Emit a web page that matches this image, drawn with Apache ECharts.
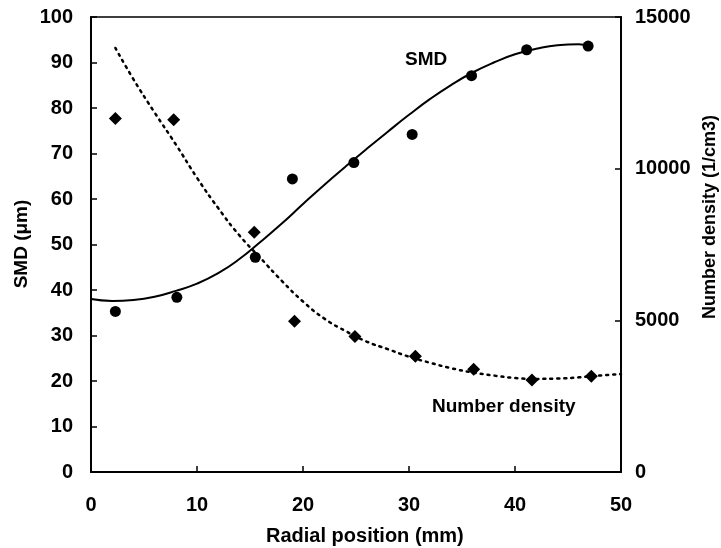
<!DOCTYPE html>
<html>
<head>
<meta charset="utf-8">
<script src="https://cdn.jsdelivr.net/npm/echarts@6/dist/echarts.min.js"></script>
<style>
html,body{margin:0;padding:0;background:#fff;}
#c{width:721px;height:548px;}
</style>
</head>
<body>
<div id="c"></div>
<script>
// Measured SMD points (radial position mm, SMD um)
const smdX = [2.3, 8.1, 15.5, 19.0, 24.8, 30.3, 35.9, 41.1, 46.9];
const smdY = [35.3, 38.4, 47.2, 64.4, 68.0, 74.2, 87.1, 92.8, 93.6];
// Fitted SMD curve
const smdFitX = [0, 2, 4, 6, 8, 10, 12, 14, 16, 18, 20, 22, 24, 26, 28, 30, 32, 34, 36, 38, 40, 42, 44, 46, 47];
const smdFitY = [38.0, 37.6, 37.8, 38.5, 39.8, 41.4, 43.7, 46.8, 50.6, 54.6, 58.9, 63.1, 67.1, 71.0, 74.8, 78.5, 82.0, 85.1, 87.8, 90.0, 91.8, 93.0, 93.8, 94.0, 93.6];
// Measured number density points (1/cm3)
const ndX = [2.3, 7.8, 15.4, 19.2, 24.9, 30.6, 36.1, 41.6, 47.2];
const ndY = [11650, 11610, 7900, 4970, 4470, 3820, 3390, 3030, 3160];
// Fitted number density curve
const ndFitX = [2.3, 4, 6, 8, 10, 12, 14, 16, 18, 20, 22, 24, 26, 28, 30, 32, 34, 36, 38, 40, 42, 44, 46, 48, 50];
const ndFitY = [13980, 12950, 11850, 10800, 9700, 8700, 7800, 7050, 6300, 5620, 5060, 4650, 4300, 4050, 3800, 3600, 3420, 3280, 3180, 3100, 3070, 3080, 3120, 3180, 3230];
const xTicks = [0, 10, 20, 30, 40, 50];
const leftTicks = [0, 10, 20, 30, 40, 50, 60, 70, 80, 90, 100];
const rightTicks = [0, 5000, 10000, 15000];

const pair = (xs, ys) => xs.map((x, i) => [x, ys[i]]);
const FONT = "'Liberation Sans', Arial, sans-serif";
const txt = {color: '#000', fontFamily: FONT, fontSize: 20, fontWeight: 'bold'};

const chart = echarts.init(document.getElementById('c'), null, {renderer: 'canvas'});
chart.setOption({
  animation: false,
  backgroundColor: '#fff',
  grid: {left: 91, right: 100, top: 17, bottom: 76, show: true, borderColor: '#000', borderWidth: 1.5, backgroundColor: 'transparent'},
  xAxis: {
    type: 'value', min: xTicks[0], max: xTicks[xTicks.length - 1], interval: 10,
    axisLine: {lineStyle: {color: '#000', width: 2}},
    axisTick: {inside: true, length: 6, lineStyle: {color: '#000', width: 1.5}},
    axisLabel: Object.assign({margin: 23, formatter: v => String(v)}, txt),
    splitLine: {show: false}
  },
  yAxis: [{
    type: 'value', min: leftTicks[0], max: leftTicks[leftTicks.length - 1], interval: 10,
    axisLine: {show: true, lineStyle: {color: '#000', width: 2}},
    axisTick: {show: true, inside: true, length: 6, lineStyle: {color: '#000', width: 1.5}},
    axisLabel: Object.assign({margin: 18, formatter: v => String(v)}, txt),
    splitLine: {show: false}
  }, {
    type: 'value', min: rightTicks[0], max: rightTicks[rightTicks.length - 1], interval: 5000, position: 'right',
    axisLine: {show: true, lineStyle: {color: '#000', width: 2}},
    axisTick: {show: true, inside: true, length: 6, lineStyle: {color: '#000', width: 1.5}},
    axisLabel: Object.assign({margin: 14, formatter: v => String(v)}, txt),
    splitLine: {show: false}
  }],
  series: [
    {type: 'line', data: pair(smdFitX, smdFitY), smooth: true, showSymbol: false, yAxisIndex: 0,
     lineStyle: {color: '#000', width: 2}, z: 2},
    {type: 'line', data: pair(ndFitX, ndFitY), smooth: true, showSymbol: false, yAxisIndex: 1,
     lineStyle: {color: '#000', width: 2.5, type: [2, 5], cap: 'round'}, z: 2},
    {type: 'scatter', data: pair(smdX, smdY), yAxisIndex: 0, symbol: 'circle', symbolSize: 11,
     itemStyle: {color: '#000', opacity: 1}, z: 3},
    {type: 'scatter', data: pair(ndX, ndY), yAxisIndex: 1, symbol: 'diamond', symbolSize: 13,
     itemStyle: {color: '#000', opacity: 1}, z: 3}
  ],
  graphic: [
    {type: 'text', left: 405, top: 50, style: {text: 'SMD', fill: '#000', font: "bold 19px 'Liberation Sans', Arial, sans-serif"}},
    {type: 'text', left: 432, top: 397, style: {text: 'Number density', fill: '#000', font: "bold 19px 'Liberation Sans', Arial, sans-serif"}},
    {type: 'text', left: 266, top: 526, style: {text: 'Radial position (mm)', fill: '#000', font: "bold 20px 'Liberation Sans', Arial, sans-serif"}},
    {type: 'text', x: 22, y: 244, rotation: Math.PI / 2, style: {text: 'SMD (μm)', fill: '#000', align: 'center', verticalAlign: 'middle', font: "bold 19px 'Liberation Sans', Arial, sans-serif"}},
    {type: 'text', x: 710, y: 217, rotation: Math.PI / 2, style: {text: 'Number density (1/cm3)', fill: '#000', align: 'center', verticalAlign: 'middle', font: "bold 18px 'Liberation Sans', Arial, sans-serif"}}
  ]
});
</script>
</body>
</html>
